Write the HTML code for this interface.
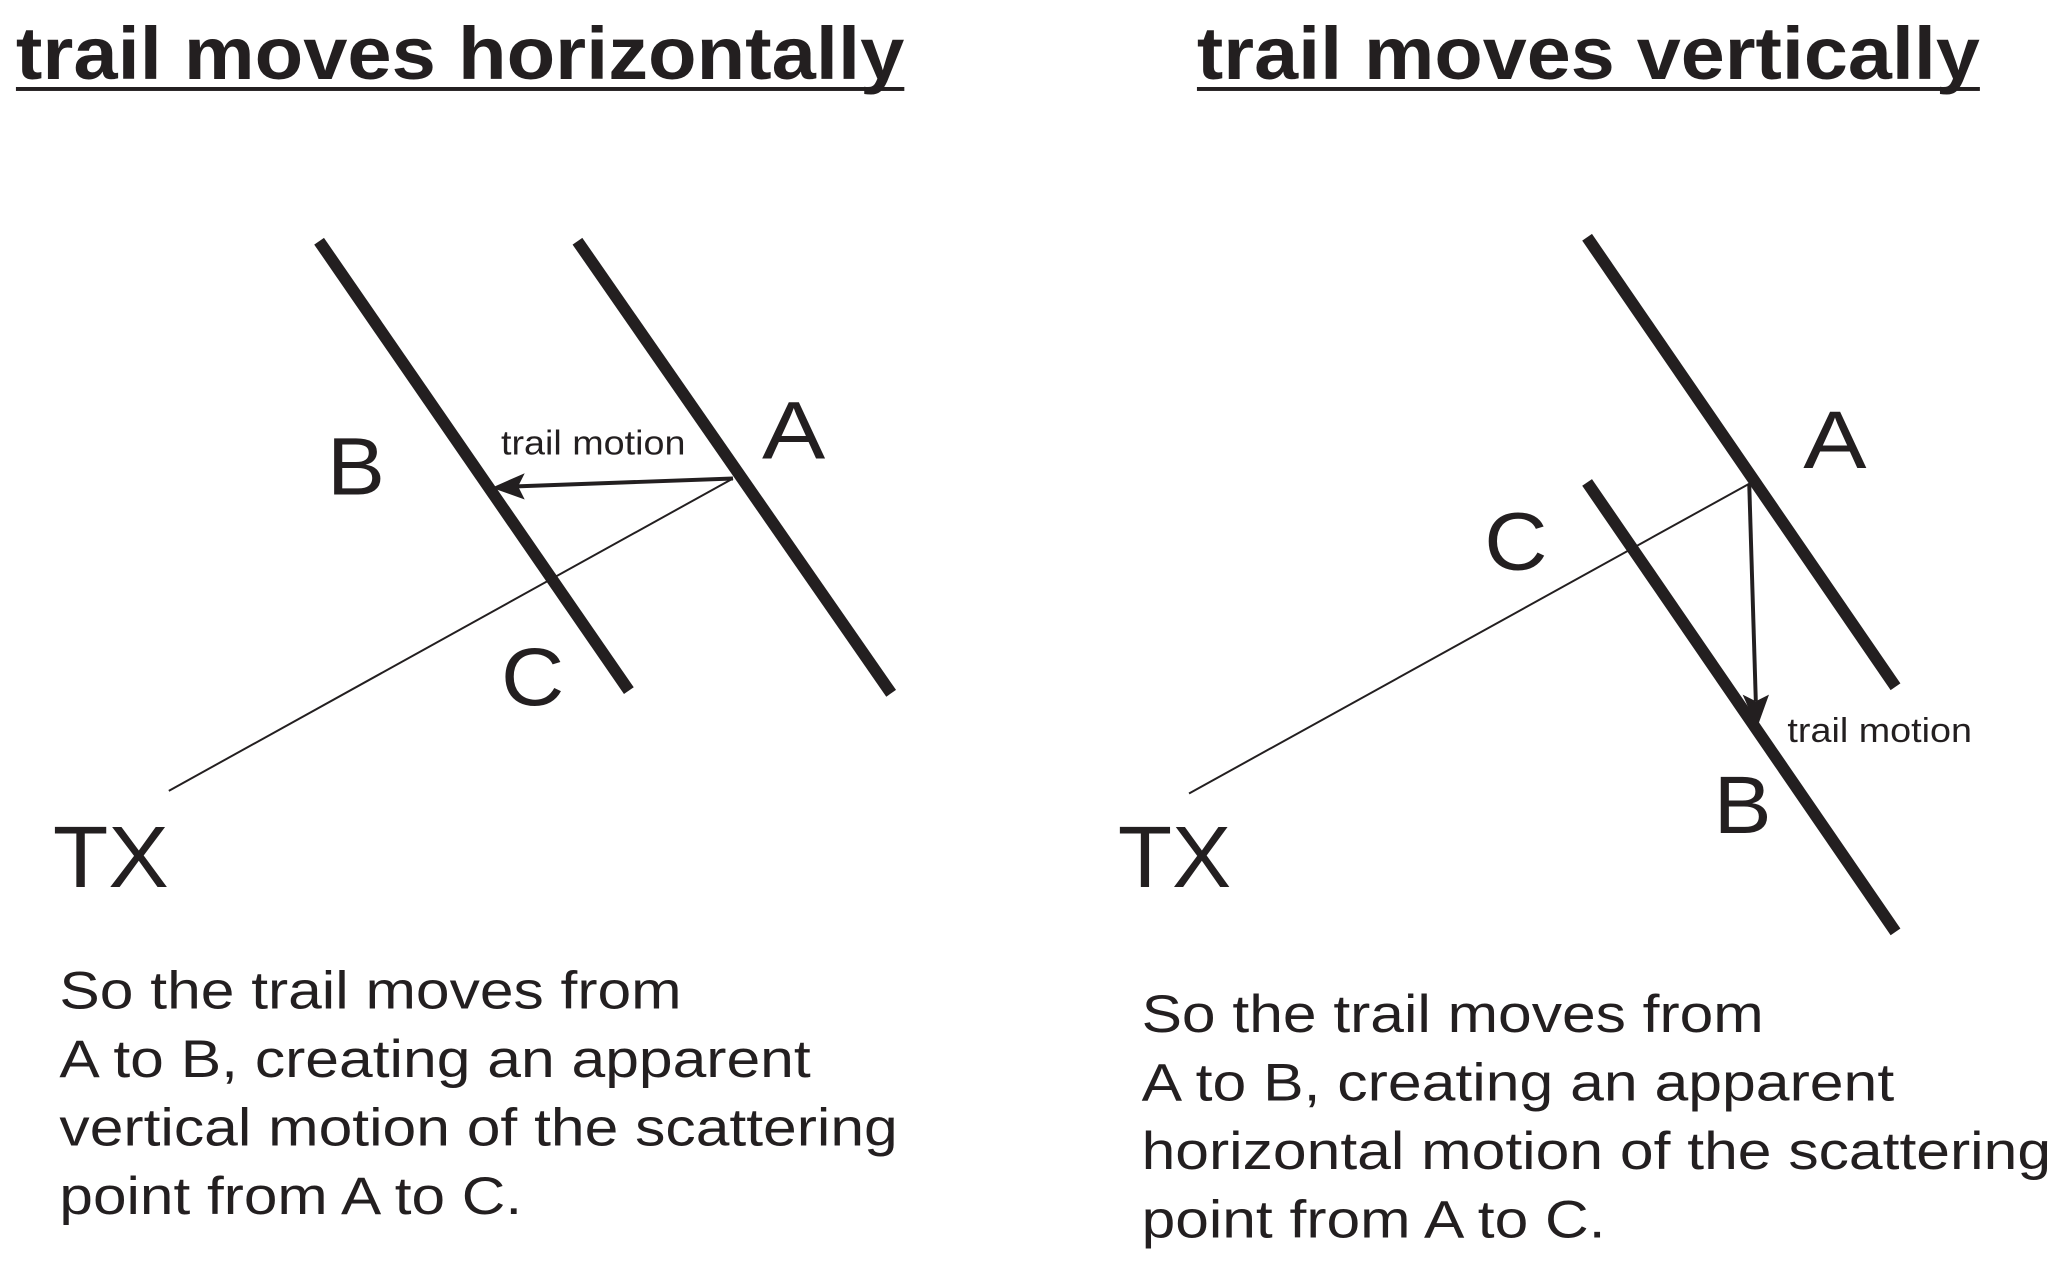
<!DOCTYPE html>
<html><head><meta charset="utf-8"><style>
html,body{margin:0;padding:0;background:#fff;}
svg{display:block;}
text{font-family:"Liberation Sans",Arial,sans-serif;fill:#231f20;}
</style></head><body>
<svg width="2067" height="1268" viewBox="0 0 1568 962" xmlns="http://www.w3.org/2000/svg">
<text x="12" y="60" font-size="56" font-weight="bold" textLength="674" lengthAdjust="spacingAndGlyphs">trail moves horizontally</text>
<rect x="12" y="66" width="674" height="3" fill="#231f20"/>
<text x="908" y="60" font-size="56" font-weight="bold" textLength="594" lengthAdjust="spacingAndGlyphs">trail moves vertically</text>
<rect x="908" y="66" width="594" height="3" fill="#231f20"/>

<g stroke="#231f20" fill="none">
<line x1="242" y1="183" x2="477" y2="524" stroke-width="9"/>
<line x1="438" y1="183" x2="676" y2="526" stroke-width="9"/>
<line x1="128" y1="600" x2="556" y2="363" stroke-width="1.5"/>
<line x1="556" y1="363" x2="392" y2="369" stroke-width="3"/>
</g>
<polygon points="373,370 398,359 393,369 398,379" fill="#231f20"/>
<text x="248" y="375" font-size="62" textLength="44" lengthAdjust="spacingAndGlyphs">B</text>
<text x="578" y="348" font-size="62" textLength="48" lengthAdjust="spacingAndGlyphs">A</text>
<text x="380" y="535" font-size="62" textLength="48" lengthAdjust="spacingAndGlyphs">C</text>
<text x="380" y="345" font-size="26" textLength="140" lengthAdjust="spacingAndGlyphs">trail motion</text>
<text x="40" y="673" font-size="66" textLength="88" lengthAdjust="spacingAndGlyphs">TX</text>
<g font-size="40">
<text x="45" y="765" textLength="472" lengthAdjust="spacingAndGlyphs">So the trail moves from</text>
<text x="45" y="817" textLength="570" lengthAdjust="spacingAndGlyphs">A to B, creating an apparent</text>
<text x="45" y="869" textLength="636" lengthAdjust="spacingAndGlyphs">vertical motion of the scattering</text>
<text x="45" y="921" textLength="351" lengthAdjust="spacingAndGlyphs">point from A to C.</text>
</g>

<g stroke="#231f20" fill="none">
<line x1="1204" y1="180" x2="1438" y2="521" stroke-width="9"/>
<line x1="1204" y1="366" x2="1438" y2="707" stroke-width="9"/>
<line x1="902" y1="602" x2="1327" y2="367" stroke-width="1.5"/>
<line x1="1327" y1="367" x2="1332" y2="532" stroke-width="3"/>
</g>
<polygon points="1333,552 1322,527 1332,532 1342,527" fill="#231f20"/>
<text x="1368" y="355" font-size="62" textLength="48" lengthAdjust="spacingAndGlyphs">A</text>
<text x="1126" y="432" font-size="62" textLength="48" lengthAdjust="spacingAndGlyphs">C</text>
<text x="1300" y="632" font-size="62" textLength="44" lengthAdjust="spacingAndGlyphs">B</text>
<text x="1356" y="563" font-size="26" textLength="140" lengthAdjust="spacingAndGlyphs">trail motion</text>
<text x="848" y="673" font-size="66" textLength="86" lengthAdjust="spacingAndGlyphs">TX</text>
<g font-size="40">
<text x="866" y="783" textLength="472" lengthAdjust="spacingAndGlyphs">So the trail moves from</text>
<text x="866" y="835" textLength="571" lengthAdjust="spacingAndGlyphs">A to B, creating an apparent</text>
<text x="866" y="887" textLength="690" lengthAdjust="spacingAndGlyphs">horizontal motion of the scattering</text>
<text x="866" y="939" textLength="352" lengthAdjust="spacingAndGlyphs">point from A to C.</text>
</g>
</svg>
</body></html>
